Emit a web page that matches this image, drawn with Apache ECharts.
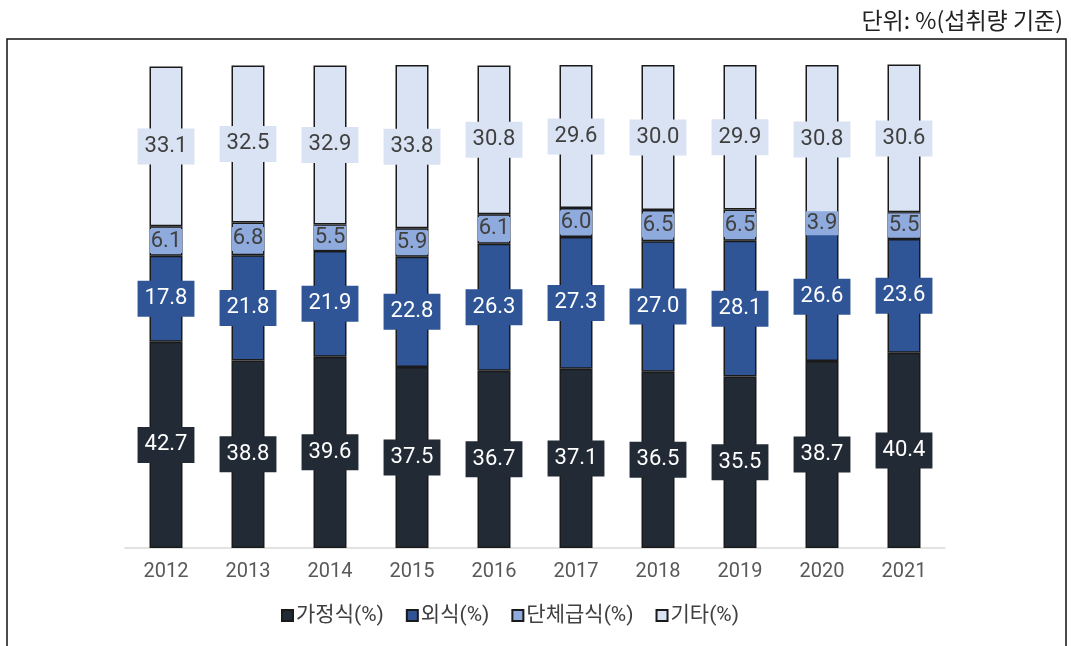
<!DOCTYPE html>
<html>
<head>
<meta charset="utf-8">
<script src="https://cdn.jsdelivr.net/npm/echarts@6/dist/echarts.min.js"></script>
<style>html,body{margin:0;padding:0;background:#fff;}#c{width:1071px;height:646px;}</style>
</head>
<body>
<div id="c"></div>
<script>
const years = ['2012','2013','2014','2015','2016','2017','2018','2019','2020','2021'];
const seriesNames = ['가정식(%)','외식(%)','단체급식(%)','기타(%)'];
const home = [42.7,38.8,39.6,37.5,36.7,37.1,36.5,35.5,38.7,40.4];
const eatOut = [17.8,21.8,21.9,22.8,26.3,27.3,27.0,28.1,26.6,23.6];
const catering = [6.1,6.8,5.5,5.9,6.1,6.0,6.5,6.5,3.9,5.5];
const other = [33.1,32.5,32.9,33.8,30.8,29.6,30.0,29.9,30.8,30.6];
const unitText = '단위: %(섭취량 기준)';

const FONT = 'Roboto, "Noto Sans CJK KR", sans-serif';
const colors = ['#222a35','#2f5597','#8faadc','#dae3f3'];
const labelStyles = [
  {color:'#ffffff', backgroundColor:colors[0], padding:[8,7,6,7]},
  {color:'#ffffff', backgroundColor:colors[1], padding:[8,7,6,7]},
  {color:'#404040', backgroundColor:colors[2], padding:[2,1,0,1]},
  {color:'#404040', backgroundColor:colors[3], padding:[8,7,6,7]}
];
const datasets = [home, eatOut, catering, other];

const chart = echarts.init(document.getElementById('c'), null, {renderer:'canvas'});
chart.setOption({
  animation:false,
  backgroundColor:'#ffffff',
  graphic:[
    {type:'rect', shape:{x:7, y:39, width:1059, height:700}, style:{fill:'none', stroke:'#111', lineWidth:1.5}, z:-1},
    {type:'text', right:8, top:9, style:{text:unitText, font:'23px "Noto Sans CJK KR", sans-serif', fill:'#222'}}
  ],
  legend:{
    top:600, left:276,
    itemWidth:11, itemHeight:11, itemGap:22,
    icon:'rect',
    textStyle:{fontFamily:FONT, fontSize:21, color:'#404040', padding:[0,0,0,-2]},
    data:seriesNames
  },
  grid:{left:125, right:126, top:65, bottom:98},
  xAxis:{
    type:'category', data:years,
    axisLine:{lineStyle:{color:'#d9d9d9', width:1.5}},
    axisTick:{show:false},
    axisLabel:{fontFamily:FONT, fontSize:20, color:'#595959', margin:14}
  },
  yAxis:{type:'value', min:0, max:100, show:false, splitLine:{show:false}},
  series: datasets.map((d,i)=>({
    name:seriesNames[i], type:'bar', stack:'total', data:d, barWidth:33,
    itemStyle:{color:colors[i], borderColor:'#1a1a1a', borderWidth:1.5},
    label:Object.assign({show:true, position:'inside', fontFamily:FONT, fontSize:22,
      formatter:p=>p.value.toFixed(1)}, labelStyles[i])
  }))
});
</script>
</body>
</html>
